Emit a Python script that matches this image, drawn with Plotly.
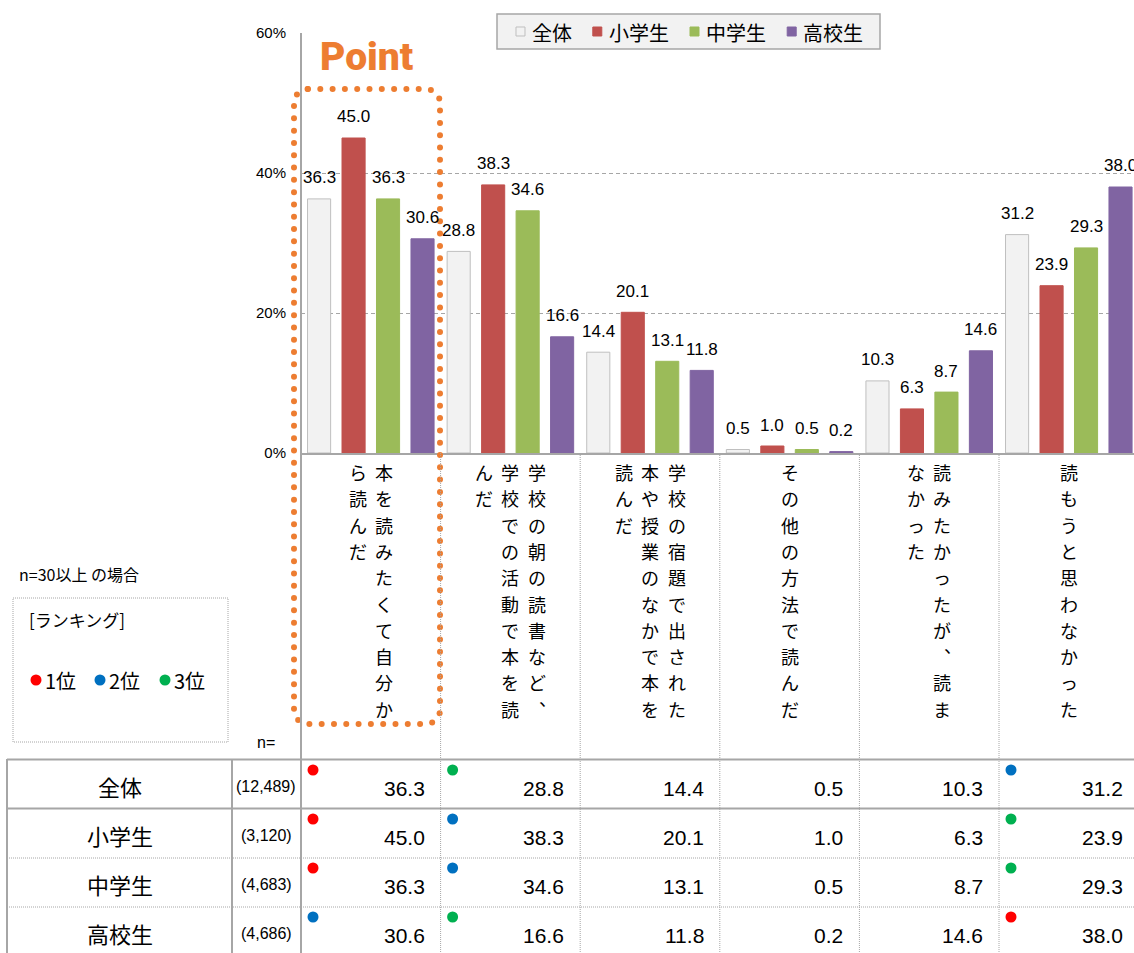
import math
import plotly.graph_objects as go

# ---------------- data ----------------
categories = [
    "本を読みたくて自分から読んだ",
    "学校の朝の読書など、学校での活動で本を読んだ",
    "学校の宿題で出された本や授業のなかで本を読んだ",
    "その他の方法で読んだ",
    "読みたかったが、読まなかった",
    "読もうと思わなかった",
]
series_names = ["全体", "小学生", "中学生", "高校生"]
values_all = [36.3, 28.8, 14.4, 0.5, 10.3, 31.2]
values_elem = [45.0, 38.3, 20.1, 1.0, 6.3, 23.9]
values_junior = [36.3, 34.6, 13.1, 0.5, 8.7, 29.3]
values_high = [30.6, 16.6, 11.8, 0.2, 14.6, 38.0]
sample_sizes = ["(12,489)", "(3,120)", "(4,683)", "(4,686)"]
y_tick_values = [0, 20, 40, 60]
y_tick_labels = ["0%", "20%", "40%", "60%"]
rank_labels = ["1位", "2位", "3位"]
note_text = "n=30以上 の場合"
ranking_title = "[ランキング]"
highlight_text = "Point"

series_values = [values_all, values_elem, values_junior, values_high]

# ---------------- styles / layout ----------------
bar_colors = ["#F2F2F2", "#C0504D", "#9BBB59", "#8064A2"]
bar_lines = ["#BFBFBF", "#C0504D", "#9BBB59", "#8064A2"]
rank_colors = ["#FF0000", "#0070C0", "#00B050"]
ORANGE = "#ED7D31"
GRID = "#A6A6A6"
JP = "Noto Sans CJK JP"
NUM = "Liberation Sans, Arial, sans-serif"

W, H = 1134, 953
PL, PR, PT, PB = 301, 1134, 33, 453
cat_w = 139.6
n_cat = len(categories)
x_max = -0.5 + (PR - PL) / cat_w
bargap = 0.012
bargroupgap = 0.33
slot = (1 - bargap) / len(series_names)
CHAR_PITCH = 26.3
COL_PITCH = 26.5

fig = go.Figure()

for k, (name, vals) in enumerate(zip(series_names, series_values)):
    fig.add_trace(go.Bar(
        x=list(range(n_cat)), y=vals, name=name,
        marker=dict(color=bar_colors[k], line=dict(color=bar_lines[k], width=1)),
        hoverinfo="skip", showlegend=False,
    ))

annotations = []
shapes = []

# data labels above bars
for k, vals in enumerate(series_values):
    for i, v in enumerate(vals):
        annotations.append(dict(
            x=i + (k - 1.5) * slot, xref="x", y=v, yref="y",
            text=f"{v:.1f}", showarrow=False, xanchor="center", yanchor="middle",
            yshift=21, font=dict(family=NUM, size=17, color="black"),
        ))

# vertical category labels (one character per cell, columns right-to-left)
VERT = {"、": "︑"}
for i, label in enumerate(categories):
    cols = [label[j:j + 10] for j in range(0, len(label), 10)]
    n = len(cols)
    cx = PL + cat_w * (i + 0.5)
    for j, col in enumerate(cols):
        for m, ch in enumerate(col):
            annotations.append(dict(
                x=cx + ((n - 1) / 2 - j) * COL_PITCH, xref="x2",
                y=472 + m * CHAR_PITCH, yref="y2",
                text=VERT.get(ch, ch), showarrow=False, xanchor="center", yanchor="middle",
                borderpad=0, font=dict(family=JP, size=18, color="black"),
            ))

# custom legend box
shapes.append(dict(type="rect", xref="x2", yref="y2", x0=497, x1=880, y0=14, y1=49,
                   fillcolor="#F2F2F2", line=dict(color=GRID, width=1.5)))
lx = 516
for k, name in enumerate(series_names):
    shapes.append(dict(type="rect", xref="x2", yref="y2", x0=lx, x1=lx + 9, y0=27, y1=36,
                       fillcolor=bar_colors[k], line=dict(color=bar_lines[k], width=1)))
    annotations.append(dict(x=lx + 15, xref="x2", y=32, yref="y2", text=name,
                            showarrow=False, xanchor="left", yanchor="middle", borderpad=0,
                            font=dict(family=JP, size=20, color="black")))
    lx += 15 + 20.4 * len(name) + 21

# table
row_tops = [760, 809, 858, 907]
row_h = 49
for r, (rname, nval) in enumerate(zip(series_names, sample_sizes)):
    cy = row_tops[r] + row_h / 2
    annotations.append(dict(x=119.5, xref="x2", y=cy + 1, yref="y2", text=rname,
                            showarrow=False, xanchor="center", yanchor="middle",
                            font=dict(family=JP, size=22, color="black")))
    annotations.append(dict(x=266, xref="x2", y=cy + 2, yref="y2", text=nval,
                            showarrow=False, xanchor="center", yanchor="middle",
                            font=dict(family=NUM, size=16, color="black")))
    vals = series_values[r]
    order = sorted(range(n_cat), key=lambda c: -vals[c])
    for c, v in enumerate(vals):
        right = PL + cat_w * (c + 1)
        annotations.append(dict(x=right - 14, xref="x2", y=cy + 4, yref="y2",
                                text=f"{v:.1f}", showarrow=False, xanchor="right",
                                yanchor="middle",
                                font=dict(family=NUM, size=21, color="black")))
        rank = order.index(c)
        if rank < 3:
            dx = PL + cat_w * c + 12
            dy = row_tops[r] + 10
            shapes.append(dict(type="circle", xref="x2", yref="y2",
                               x0=dx - 5.5, x1=dx + 5.5, y0=dy - 5.5, y1=dy + 5.5,
                               fillcolor=rank_colors[rank], line=dict(width=0)))


def hline(y, x0, x1, width=2, dash="solid", color=GRID):
    shapes.append(dict(type="line", xref="x2", yref="y2", x0=x0, x1=x1, y0=y, y1=y,
                       line=dict(color=color, width=width, dash=dash)))


def vline(x, y0, y1, width=2, dash="solid", color=GRID):
    shapes.append(dict(type="line", xref="x2", yref="y2", x0=x, x1=x, y0=y0, y1=y1,
                       line=dict(color=color, width=width, dash=dash)))


hline(759.5, 7, W)
hline(808.5, 7, W)
hline(858, 7, W, width=1, dash="1px,1px")
hline(907, 7, W, width=1, dash="1px,1px")
vline(7, 759, H)
vline(232, 759, H)
vline(PL, PT, H)
for c in range(1, n_cat):
    vline(PL + cat_w * c, PB, H, width=1, dash="1px,1px")

# n= text
annotations.append(dict(x=266, xref="x2", y=742, yref="y2", text="n=", showarrow=False,
                        xanchor="center", yanchor="middle",
                        font=dict(family=NUM, size=16, color="black")))

# note + ranking key
annotations.append(dict(x=17, xref="x2", y=574, yref="y2", text=note_text, showarrow=False,
                        xanchor="left", yanchor="middle",
                        font=dict(family=JP, size=16, color="black")))
shapes.append(dict(type="rect", xref="x2", yref="y2", x0=13, x1=228, y0=598, y1=742,
                   line=dict(color=GRID, width=1, dash="1px,1px")))
annotations.append(dict(x=27, xref="x2", y=619, yref="y2", text=ranking_title, showarrow=False,
                        xanchor="left", yanchor="middle",
                        font=dict(family=JP, size=17, color="black")))
key_x = [36, 100, 165]
for rank, (lbl, col) in enumerate(zip(rank_labels, rank_colors)):
    kx = key_x[rank]
    shapes.append(dict(type="circle", xref="x2", yref="y2", x0=kx - 5.5, x1=kx + 5.5,
                       y0=680 - 5.5, y1=680 + 5.5, fillcolor=col, line=dict(width=0)))
    annotations.append(dict(x=kx + 7, xref="x2", y=680, yref="y2", text=lbl, showarrow=False,
                            xanchor="left", yanchor="middle",
                            font=dict(family=JP, size=20, color="black")))

# "Point" highlight
annotations.append(dict(x=366, xref="x2", y=57, yref="y2", text=highlight_text,
                        showarrow=False, xanchor="center", yanchor="middle",
                        font=dict(family="Roboto, sans-serif", size=39, color=ORANGE,
                                  weight=900)))


def rounded_rect_dots(x0, y0, x1, y1, r, step):
    pts = []

    def arc(cx, cy, a0, a1, n=40):
        return [(cx + r * math.cos(math.radians(a0 + (a1 - a0) * t / n)),
                 cy + r * math.sin(math.radians(a0 + (a1 - a0) * t / n))) for t in range(n + 1)]
    path = [(x0 + r, y0), (x1 - r, y0)]
    path += arc(x1 - r, y0 + r, -90, 0)
    path += [(x1, y1 - r)]
    path += arc(x1 - r, y1 - r, 0, 90)
    path += [(x0 + r, y1)]
    path += arc(x0 + r, y1 - r, 90, 180)
    path += [(x0, y0 + r)]
    path += arc(x0 + r, y0 + r, 180, 270)
    dist_next = 0.0
    for (ax, ay), (bx, by) in zip(path[:-1], path[1:]):
        seg = math.hypot(bx - ax, by - ay)
        d = dist_next
        while d <= seg:
            t = d / seg if seg else 0
            pts.append((ax + (bx - ax) * t, ay + (by - ay) * t))
            d += step
        dist_next = d - seg
    return pts


dots = rounded_rect_dots(294, 89, 440, 724, 14, 12.3)
fig.add_trace(go.Scatter(
    x=[p[0] for p in dots], y=[p[1] for p in dots], xaxis="x2", yaxis="y2",
    mode="markers", marker=dict(size=6, color=ORANGE), showlegend=False,
    hoverinfo="skip", cliponaxis=False,
))

fig.update_layout(
    width=W, height=H, autosize=False,
    margin=dict(l=0, r=0, t=0, b=0, pad=0, autoexpand=False),
    paper_bgcolor="white", plot_bgcolor="rgba(0,0,0,0)",
    barmode="group", bargap=bargap, bargroupgap=bargroupgap,
    xaxis=dict(domain=[PL / W, 1], range=[-0.5, x_max], showticklabels=False,
               showgrid=False, zeroline=False, showline=True, linecolor=GRID,
               linewidth=1.5, ticks="", fixedrange=True, automargin=False),
    yaxis=dict(domain=[(H - PB) / H, (H - PT) / H], range=[0, 60],
               tickvals=y_tick_values, ticktext=y_tick_labels, ticks="",
               showgrid=True, gridcolor=GRID, griddash="4px,3px", gridwidth=1,
               zeroline=False, showline=False, ticklabelstandoff=14, automargin=False,
               tickfont=dict(family=NUM, size=15, color="black"), fixedrange=True),
    xaxis2=dict(domain=[0, 1], range=[0, W], visible=False, anchor="y2", fixedrange=True),
    yaxis2=dict(domain=[0, 1], range=[H, 0], visible=False, anchor="x2", fixedrange=True),
    annotations=annotations,
    shapes=shapes,
    showlegend=False,
)

fig.write_html(
    "out.html",
    config={"displayModeBar": False},
    post_script="document.body.style.margin='0px';document.body.style.overflow='hidden';",
)
